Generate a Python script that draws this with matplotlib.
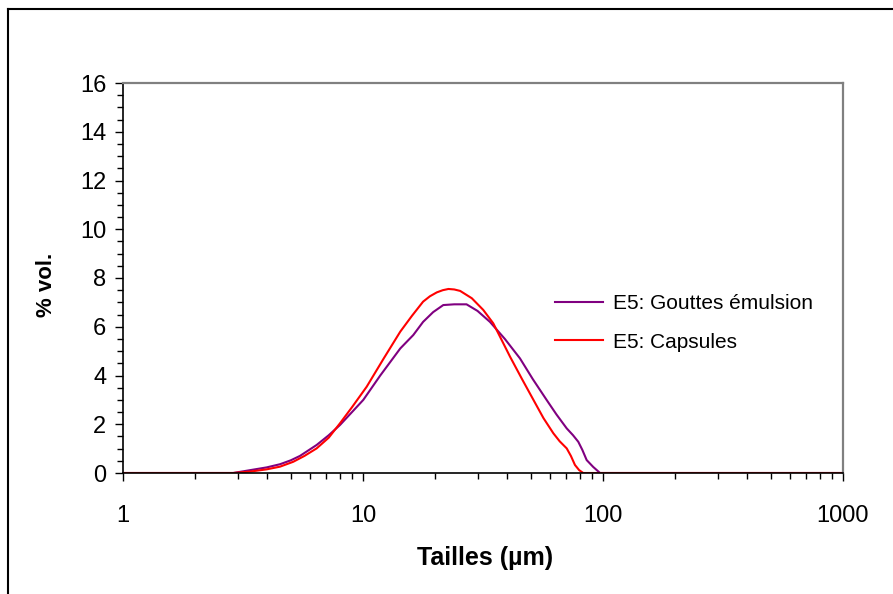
import matplotlib
matplotlib.use("Agg")
import matplotlib.pyplot as plt
from matplotlib.ticker import FixedLocator, NullFormatter, MultipleLocator, FixedFormatter
from matplotlib.lines import Line2D

plt.rcParams['font.family'] = ['Liberation Sans', 'DejaVu Sans']

# Data
gouttes_size = [1.0, 2.0, 2.88, 3.4, 3.97, 4.51, 5.0, 5.46, 6.41, 7.2, 8.02, 9.0, 10.03, 11.8, 14.3,
                16.2, 17.8, 19.6, 21.6, 24.0, 27.0, 30.0, 33.8, 39.0, 45.1, 51.0, 58.2,
                64.0, 70.6, 75.0, 78.9, 82.0, 85.5, 91.0, 97.2, 200.0, 500.0, 1000.0]
gouttes_vol = [0.0, 0.0, 0.0, 0.12, 0.23, 0.36, 0.52, 0.70, 1.15, 1.55, 1.97, 2.50, 3.0, 4.0, 5.11,
               5.66, 6.2, 6.6, 6.89, 6.92, 6.92, 6.65, 6.2, 5.5, 4.7, 3.85, 3.0,
               2.4, 1.83, 1.55, 1.28, 0.95, 0.53, 0.25, 0.0, 0.0, 0.0, 0.0]

capsules_size = [1.0, 2.0, 2.88, 3.4, 3.97, 4.51, 5.12, 5.7, 6.41, 7.2, 8.02, 9.0, 10.36, 12.2, 14.3,
                 16.0, 17.8, 19.0, 20.3, 21.5, 22.7, 24.0, 25.4, 28.4, 31.7, 34.9, 41.0,
                 46.0, 51.3, 56.5, 62.1, 66.0, 70.6, 73.5, 76.4, 79.5, 82.7, 200.0, 500.0, 1000.0]
capsules_vol = [0.0, 0.0, 0.0, 0.06, 0.15, 0.26, 0.46, 0.70, 1.01, 1.45, 2.04, 2.70, 3.54, 4.7, 5.8,
                6.45, 7.03, 7.25, 7.41, 7.5, 7.55, 7.53, 7.47, 7.17, 6.69, 6.14, 4.77,
                3.85, 3.0, 2.25, 1.63, 1.3, 1.01, 0.7, 0.33, 0.12, 0.0, 0.0, 0.0, 0.0]

labels = ["E5: Gouttes émulsion", "E5: Capsules"]
colors = ["#800080", "#ff0000"]
x_ticks = [1, 10, 100, 1000]
x_ticklabels = ["1", "10", "100", "1000"]

fig = plt.figure(figsize=(8.93, 5.94), dpi=100)
ax = fig.add_axes([123/893, 1-473/594, 720/893, 390/594])

ax.plot(gouttes_size, gouttes_vol, color=colors[0], lw=1.5, label=labels[0])
ax.plot(capsules_size, capsules_vol, color=colors[1], lw=1.5, label=labels[1])

ax.set_xscale('log')
ax.set_xlim(1, 1000)
ax.set_ylim(0, 16)
ax.yaxis.set_major_locator(MultipleLocator(2))
ax.yaxis.set_minor_locator(MultipleLocator(0.5))
ax.xaxis.set_major_locator(FixedLocator(x_ticks))
ax.xaxis.set_major_formatter(FixedFormatter(x_ticklabels))
ax.xaxis.set_minor_formatter(NullFormatter())

ax.tick_params(axis='both', which='major', direction='out', length=6, width=1.0, colors='black', labelsize=17)
ax.tick_params(axis='both', which='minor', direction='out', length=4, width=1.0, colors='black')
ax.tick_params(axis='x', which='major', pad=17)
ax.tick_params(axis='y', which='major', pad=6)

for s in ['left', 'bottom']:
    ax.spines[s].set_color('black')
    ax.spines[s].set_linewidth(1.2)
for s in ['top', 'right']:
    ax.spines[s].set_color('#808080')
    ax.spines[s].set_linewidth(1.6)

ax.set_xlabel("Tailles (µm)", fontsize=18, fontweight='bold')
ax.xaxis.set_label_coords(0.503, (473-546)/390)
ax.set_ylabel("% vol.", fontsize=16, fontweight='bold')
ax.yaxis.set_label_coords((57-123)/720, 0.482)

ax.legend(loc='center left', bbox_to_anchor=(0.5745, 0.385), frameon=False, fontsize=15,
          handlelength=2.3, handletextpad=0.45, labelspacing=0.95)

# Figure border (top and left only, as in reference crop)
fig.add_artist(Line2D([7.5/893, 1.0], [1-9/594, 1-9/594], color='black', lw=1.5, transform=fig.transFigure))
fig.add_artist(Line2D([7.5/893, 7.5/893], [1-9/594, 0.0], color='black', lw=1.5, transform=fig.transFigure))

fig.savefig("out.png", dpi=100)
